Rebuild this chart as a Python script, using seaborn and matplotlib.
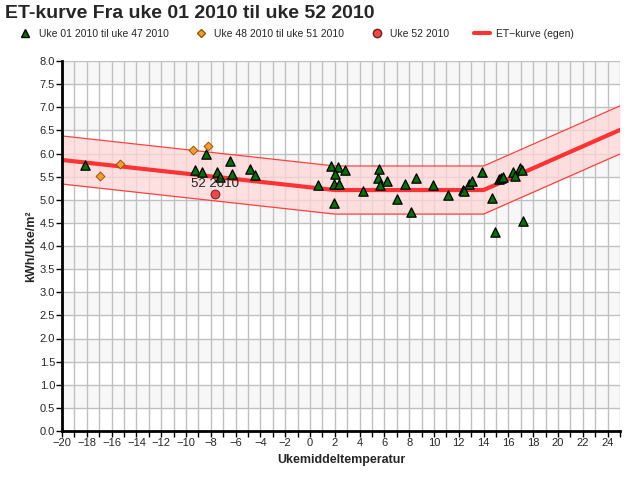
import numpy as np
import pandas as pd
import matplotlib
matplotlib.use("Agg")
import matplotlib.pyplot as plt
import seaborn as sns
from matplotlib.lines import Line2D

# ---- data ----
title = "ET-kurve Fra uke 01 2010 til uke 52 2010"
series_names = ["Uke 01 2010 til uke 47 2010", "Uke 48 2010 til uke 51 2010", "Uke 52 2010", "ET\u2212kurve (egen)"]

tri_x = [-18.15, -9.27, -8.69, -8.39, -7.53, -7.26, -6.45, -6.29, -4.84, -4.44,
         0.67, 1.69, 2.28, 2.02, 2.85, 1.96, 2.37, 1.96, 4.30, 5.59, 5.51, 5.67,
         6.24, 7.04, 7.69, 8.57, 8.17, 9.92, 11.15,
         12.31, 12.44, 12.85, 13.09, 13.90, 14.70, 14.94, 15.24, 15.40, 15.59,
         16.37, 16.50, 16.96, 17.12, 17.20]
tri_y = [5.75, 5.64, 5.59, 5.99, 5.59, 5.50, 5.83, 5.56, 5.66, 5.54,
         5.32, 5.73, 5.71, 5.55, 5.64, 5.33, 5.34, 4.94, 5.20, 5.66, 5.48, 5.32,
         5.40, 5.01, 5.33, 5.48, 4.73, 5.32, 5.10,
         5.22, 5.19, 5.35, 5.40, 5.59, 5.03, 4.30, 5.45, 5.48, 5.50,
         5.59, 5.52, 5.69, 5.64, 4.54]

dia_x = [-16.94, -15.32, -9.44, -8.20]
dia_y = [5.51, 5.77, 6.07, 6.17]

circ_x = [-7.66]
circ_y = [5.12]
circ_label = "52 2010"

et_x = [-20, 2, 14, 25]
et_y = [5.86, 5.21, 5.21, 6.51]
et_band = 0.52

x_ticks = list(range(-20, 25, 2))
y_ticks = [i * 0.5 for i in range(17)]
x_label = "Ukemiddeltemperatur"
y_label = "kWh/Uke/m\u00b2"

# ---- plot ----
sns.set_theme(style="white")
plt.rcParams['font.family'] = ['Liberation Sans', 'DejaVu Sans']

fig = plt.figure(figsize=(6.4, 4.8), dpi=100)
ax = fig.add_axes([62/640, 49/480, 558/640, 370/480])
ax.set_xlim(-20, 25)
ax.set_ylim(0, 8)

# alternating background bands
for k in range(8):
    ax.axhspan(k + 0.5, k + 1, color="#f7f7f7", zorder=0, lw=0)

# grid
ax.set_xticks(range(-20, 26), minor=True)
ax.set_yticks(y_ticks)
ax.set_xticks(x_ticks)
ax.grid(which="both", axis="x", color="#c0c0c0", lw=1, zorder=0.5)
ax.grid(which="major", axis="y", color="#c0c0c0", lw=1, zorder=0.5)
ax.set_axisbelow(True)

# ET band
ex = np.array(et_x, dtype=float)
ey = np.array(et_y, dtype=float)
ax.fill_between(ex, ey - et_band, ey + et_band, color="#ffd6d6", alpha=0.75, lw=0, zorder=1)
ax.plot(ex, ey + et_band, color="#ff4040", lw=0.9, zorder=2)
ax.plot(ex, ey - et_band, color="#ff4040", lw=0.9, zorder=2)
et_df = pd.DataFrame({"x": et_x, "y": et_y})
sns.lineplot(data=et_df, x="x", y="y", ax=ax, color="#ff3333", lw=3, zorder=3,
             sort=False, legend=False)

sns.scatterplot(x=tri_x, y=tri_y, ax=ax, marker="^", s=45, color="#007000",
                edgecolor="black", linewidth=0.9, zorder=4)
sns.scatterplot(x=dia_x, y=dia_y, ax=ax, marker="D", s=20, color="#ff9a30",
                edgecolor="#8a5a00", linewidth=0.7, zorder=4)
sns.scatterplot(x=circ_x, y=circ_y, ax=ax, marker="o", s=40, color="#f04848",
                edgecolor="#702020", linewidth=0.7, zorder=4)
ax.text(circ_x[0], circ_y[0] + 0.21, circ_label, ha="center", va="center",
        fontsize=9.5, color="#222222", zorder=10)
if ax.get_legend() is not None:
    ax.get_legend().remove()

# spines
for s in ["top", "right"]:
    ax.spines[s].set_visible(False)
for s in ["left", "bottom"]:
    ax.spines[s].set_color("black")
    ax.spines[s].set_linewidth(2)
    ax.spines[s].set_zorder(6)

ax.tick_params(axis="both", which="both", direction="out", color="black",
               length=4, width=1, labelsize=8, pad=1, bottom=True, left=True)
ax.set_xticklabels([str(t).replace("-", "\u2212") for t in x_ticks])
ax.set_yticklabels([f"{t:.1f}" for t in y_ticks])
ax.set_xlabel(x_label, fontsize=9, fontweight="bold", labelpad=4)
ax.set_ylabel(y_label, fontsize=9, fontweight="bold", labelpad=2)

fig.text(5/640, 1 - 14/480, title, fontsize=14, fontweight="bold", va="center", ha="left")

# legend: one entry per legend so positions match
fs = 7.5
em = fs * 100 / 72.0  # px
handles = [
    Line2D([], [], marker="^", ls="", color="#007000", markeredgecolor="black", markersize=6),
    Line2D([], [], marker="D", ls="", color="#ff9a30", markeredgecolor="#8a5a00", markersize=4.5),
    Line2D([], [], marker="o", ls="", color="#f04848", markeredgecolor="#702020", markersize=6),
    Line2D([], [], color="#ff3333", lw=3),
]
# (handle start px, handle length px, text start px)
slots = [(25 - 6, 12, 39), (201 - 6, 12, 214), (377 - 6, 12, 390), (474, 16, 496)]
for h, name, (hs, hl, ts) in zip(handles, series_names, slots):
    fig.legend([h], [name], loc="center left", bbox_to_anchor=(hs / 640, 1 - 34 / 480),
               frameon=False, fontsize=fs, handlelength=hl / em,
               handletextpad=(ts - hs - hl) / em, borderpad=0, borderaxespad=0)

fig.savefig("out.png", dpi=100)
